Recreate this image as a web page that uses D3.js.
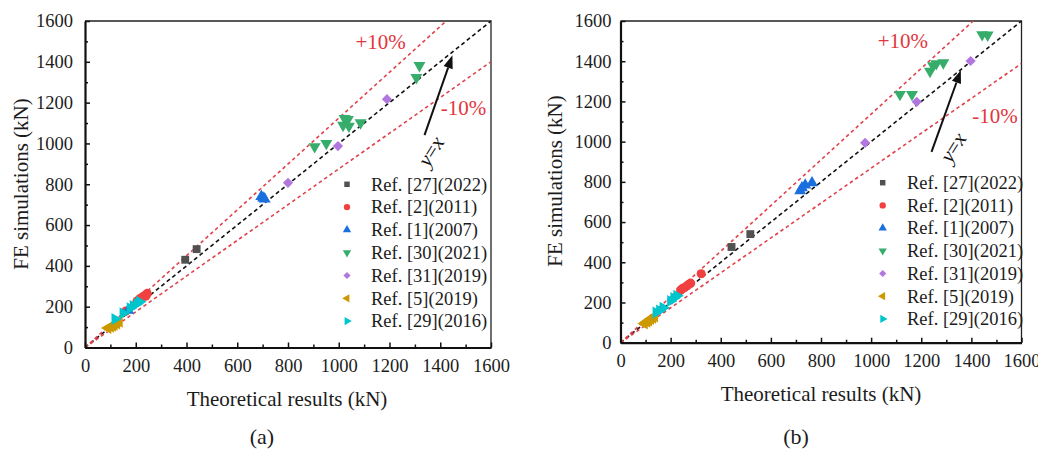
<!DOCTYPE html>
<html>
<head>
<meta charset="utf-8">
<script src="https://cdn.jsdelivr.net/npm/d3@7"></script>
<style>
  body { margin: 0; background: #fff; }
  svg { display: block; }
</style>
</head>
<body>
<svg id="chart" width="1038" height="449"></svg>
<script>
// legend / series
const seriesNames = ["Ref. [27](2022)", "Ref. [2](2011)", "Ref. [1](2007)", "Ref. [30](2021)",
    "Ref. [31](2019)", "Ref. [5](2019)", "Ref. [29](2016)"];
const seriesColors = ["#515151", "#F14040", "#1A6FDF", "#37AD6B", "#B177DE", "#CC9900", "#00C5CC"];
const seriesShapes = ["square", "circle", "up", "down", "diamond", "left", "right"];

const majorTicks = [0, 200, 400, 600, 800, 1000, 1200, 1400, 1600];
const minorTicks = [100, 300, 500, 700, 900, 1100, 1300, 1500];

// panel (a): [theoretical, FE]
const aRef27 = [[395, 430], [440, 482]];
const aRef2 = [[160, 178], [205, 228], [215, 238], [225, 246], [235, 255], [245, 265], [240, 252]];
const aRef1 = [[170, 182], [695, 740], [702, 732], [708, 728]];
const aRef30 = [[905, 984], [951, 1000], [1023, 1122], [1036, 1117], [1017, 1089], [1040, 1085],
    [1086, 1101], [1306, 1323], [1318, 1382]];
const aRef31 = [[800, 807], [997, 987], [1190, 1217]];
const aRef5 = [[90, 95], [100, 102], [108, 106], [115, 112], [125, 118], [135, 126]];
const aRef29 = [[118, 140], [150, 168], [178, 192], [190, 204], [205, 214], [215, 224]];

// panel (b)
const bRef27 = [[443, 476], [518, 540]];
const bRef2 = [[240, 262], [248, 270], [256, 274], [264, 282], [272, 290], [280, 296], [322, 343]];
const bRef1 = [[717, 755], [724, 770], [737, 784], [764, 795]];
const bRef30 = [[1115, 1235], [1163, 1235], [1235, 1350], [1247, 1378], [1260, 1388], [1288, 1392],
    [1443, 1532], [1465, 1530]];
const bRef31 = [[205, 214], [976, 994], [1182, 1198], [1397, 1401]];
const bRef5 = [[95, 96], [105, 104], [112, 110], [120, 118], [128, 124], [136, 130]];
const bRef29 = [[142, 150], [156, 160], [170, 174], [200, 208], [213, 222], [225, 234]];

// guide lines y = k*x  (y=x, +10%, -10%)
const aSlopes = [1, 1.124, 0.875];
const bSlopes = [1, 1.137, 0.868];

const serif = "'Liberation Serif', 'Times New Roman', serif";
const svg = d3.select("#chart");

const panels = [
    {
        id: "a", left: 85, right: 491, top: 21, bottom: 347.5, yPad: 12,
        series: [aRef27, aRef2, aRef1, aRef30, aRef31, aRef5, aRef29], slopes: aSlopes,
        legend: {mx: 347, tx: 371, y0: 184.3, step: 22.8},
        arrow: [[1338, 1041], [1448, 1432]], yx: [1362, 962],
        plus: [1165, 1500], minus: [1492, 1177],
        xTitle: {x: 287, y: 406}, yTitle: {x: 21, y: 184}, caption: {x: 262, y: 444}
    },
    {
        id: "b", left: 620.5, right: 1021.5, top: 21, bottom: 342.7, yPad: 9,
        series: [bRef27, bRef2, bRef1, bRef30, bRef31, bRef5, bRef29], slopes: bSlopes,
        legend: {mx: 882.7, tx: 907, y0: 182.7, step: 22.7},
        arrow: [[1241, 949], [1358, 1355]], yx: [1326, 972],
        plus: [1127, 1504], minus: [1494, 1131],
        xTitle: {x: 821, y: 401}, yTitle: {x: 555, y: 181}, caption: {x: 796, y: 444}
    }
];

function symbolPath(shape, size) {
    let type = d3.symbolTriangle;
    if (shape === "square" || shape === "diamond") type = d3.symbolSquare;
    if (shape === "circle") type = d3.symbolCircle;
    return d3.symbol().type(type).size(size)();
}

function symbolRotate(shape) {
    return {down: 180, left: -90, right: 90, diamond: 45}[shape] || 0;
}

function drawPanel(p) {
    const x = d3.scaleLinear().domain([0, 1600]).range([p.left, p.right]);
    const y = d3.scaleLinear().domain([0, 1600]).range([p.bottom, p.top]);
    const g = svg.append("g").attr("class", "panel-" + p.id);

    g.append("clipPath").attr("id", "clip-" + p.id)
        .append("rect")
        .attr("x", p.left).attr("y", p.top)
        .attr("width", p.right - p.left).attr("height", p.bottom - p.top);

    // frame top/right
    g.append("path")
        .attr("d", `M${p.left},${p.top}H${p.right}V${p.bottom}`)
        .attr("fill", "none").attr("stroke", "#222").attr("stroke-width", 1.3);

    // guide lines
    const guides = g.append("g").attr("clip-path", `url(#clip-${p.id})`);
    p.slopes.forEach((k, i) => {
        const xEnd = Math.min(1600, 1600 / k);
        guides.append("line")
            .attr("x1", x(0)).attr("y1", y(0))
            .attr("x2", x(xEnd)).attr("y2", y(k * xEnd))
            .attr("stroke", i === 0 ? "#111" : "#e0434b")
            .attr("stroke-width", 1.6)
            .attr("stroke-dasharray", i === 0 ? "4,3" : "3.5,3");
    });

    // axes
    const fontSize = 18.5;
    const fmt = d3.format("d");
    const xMinor = g.append("g").attr("transform", `translate(0,${p.bottom})`)
        .call(d3.axisBottom(x).tickValues(minorTicks).tickSize(-3).tickFormat(""));
    xMinor.select(".domain").remove();
    const xAxis = g.append("g").attr("transform", `translate(0,${p.bottom})`)
        .call(d3.axisBottom(x).tickValues(majorTicks).tickFormat(fmt)
            .tickSizeInner(-5).tickSizeOuter(0).tickPadding(11));

    const yMinor = g.append("g").attr("transform", `translate(${p.left},0)`)
        .call(d3.axisLeft(y).tickValues(minorTicks).tickSize(-3).tickFormat(""));
    yMinor.select(".domain").remove();
    const yAxis = g.append("g").attr("transform", `translate(${p.left},0)`)
        .call(d3.axisLeft(y).tickValues(majorTicks).tickFormat(fmt)
            .tickSizeInner(-5).tickSizeOuter(0).tickPadding(p.yPad));

    [xAxis, yAxis, xMinor, yMinor].forEach(a => {
        a.attr("font-family", serif).attr("font-size", fontSize);
        a.selectAll(".tick line").attr("stroke", "#111").attr("stroke-width", 1.5);
        a.selectAll(".tick text").attr("fill", "#1c1c1c");
        a.select(".domain").attr("stroke", "#111").attr("stroke-width", 2.2);
    });

    // points
    p.series.forEach((pts, si) => {
        const shape = seriesShapes[si];
        const size = shape === "square" ? 62 : shape === "circle" ? 66 : shape === "diamond" ? 52 : 62;
        g.append("g").selectAll("path")
            .data(pts)
            .join("path")
            .attr("d", symbolPath(shape, size))
            .attr("transform", d => `translate(${x(d[0])},${y(d[1])}) rotate(${symbolRotate(shape)})`)
            .attr("fill", seriesColors[si]);
    });

    // legend
    const lg = g.append("g");
    seriesNames.forEach((name, i) => {
        const cy = p.legend.y0 + i * p.legend.step;
        const shape = seriesShapes[i];
        const size = shape === "square" ? 30 : shape === "circle" ? 32 : shape === "diamond" ? 26 : 30;
        lg.append("path")
            .attr("d", symbolPath(shape, size))
            .attr("transform", `translate(${p.legend.mx},${cy}) rotate(${symbolRotate(shape)})`)
            .attr("fill", seriesColors[i]);
        lg.append("text")
            .attr("x", p.legend.tx).attr("y", cy + 6.3)
            .attr("font-family", serif).attr("font-size", fontSize)
            .attr("fill", "#1c1c1c")
            .text(name);
    });

    // arrow y=x
    const [a0, a1] = p.arrow.map(d => [x(d[0]), y(d[1])]);
    const ang = Math.atan2(a1[1] - a0[1], a1[0] - a0[0]);
    const headLen = 13, headW = 4.8;
    const base = [a1[0] - headLen * Math.cos(ang), a1[1] - headLen * Math.sin(ang)];
    g.append("line")
        .attr("x1", a0[0]).attr("y1", a0[1])
        .attr("x2", base[0]).attr("y2", base[1])
        .attr("stroke", "#111").attr("stroke-width", 2);
    g.append("path")
        .attr("d", `M${a1[0]},${a1[1]}` +
            `L${base[0] - headW * Math.sin(ang)},${base[1] + headW * Math.cos(ang)}` +
            `L${base[0] + headW * Math.sin(ang)},${base[1] - headW * Math.cos(ang)}Z`)
        .attr("fill", "#111");

    const yxText = g.append("text")
        .attr("transform", `translate(${x(p.yx[0])},${y(p.yx[1])}) rotate(-58)`)
        .attr("text-anchor", "middle").attr("dy", "0.35em")
        .attr("font-family", serif).attr("font-size", 21).attr("fill", "#111");
    yxText.append("tspan").attr("font-style", "italic").text("y");
    yxText.append("tspan").text("=");
    yxText.append("tspan").attr("font-style", "italic").text("x");

    // ±10% labels
    [[p.plus, "+10%"], [p.minus, "-10%"]].forEach(([pos, label]) => {
        g.append("text")
            .attr("x", x(pos[0])).attr("y", y(pos[1]))
            .attr("dy", "0.35em").attr("text-anchor", "middle")
            .attr("font-family", serif).attr("font-size", 21)
            .attr("fill", "#e2363d")
            .text(label);
    });

    // titles
    g.append("text")
        .attr("x", p.xTitle.x).attr("y", p.xTitle.y)
        .attr("text-anchor", "middle")
        .attr("font-family", serif).attr("font-size", 21).attr("fill", "#1c1c1c")
        .text("Theoretical results (kN)");
    g.append("text")
        .attr("transform", `translate(${p.yTitle.x},${p.yTitle.y}) rotate(-90)`)
        .attr("text-anchor", "middle").attr("dy", "0.35em")
        .attr("font-family", serif).attr("font-size", 21).attr("fill", "#1c1c1c")
        .text("FE simulations (kN)");
    g.append("text")
        .attr("x", p.caption.x).attr("y", p.caption.y)
        .attr("text-anchor", "middle")
        .attr("font-family", serif).attr("font-size", 22).attr("fill", "#1c1c1c")
        .text("(" + p.id + ")");
}

panels.forEach(drawPanel);
</script>
</body>
</html>
